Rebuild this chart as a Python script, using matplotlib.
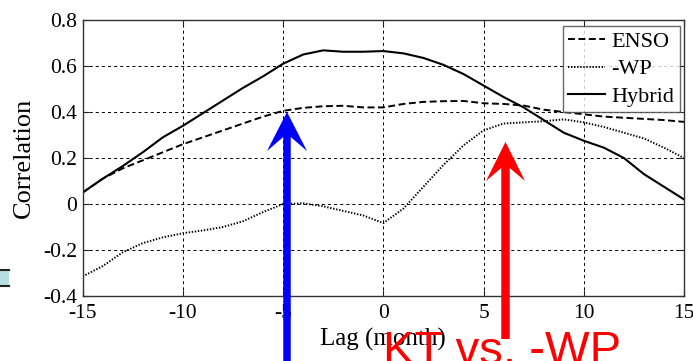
import matplotlib
matplotlib.use("Agg")
import matplotlib.pyplot as plt
from matplotlib.patches import Polygon, Rectangle
from matplotlib.lines import Line2D
from matplotlib.transforms import Affine2D

plt.rcParams["font.family"] = ["Liberation Serif", "DejaVu Serif"]
plt.rcParams["axes.unicode_minus"] = False
plt.rcParams["lines.scale_dashes"] = False

# Lagged correlation, lag in months
lags = list(range(-15, 16))
enso = [0.05, 0.11, 0.155, 0.19, 0.225, 0.26, 0.29, 0.32, 0.35, 0.38, 0.405,
        0.418, 0.425, 0.427, 0.42, 0.42, 0.435, 0.444, 0.447, 0.448, 0.438,
        0.435, 0.428, 0.41, 0.4, 0.39, 0.38, 0.375, 0.37, 0.365, 0.357]
neg_wp = [-0.315, -0.27, -0.21, -0.17, -0.145, -0.127, -0.115, -0.1, -0.075,
          -0.035, 0.0, 0.003, -0.01, -0.03, -0.05, -0.083, -0.02, 0.075, 0.17,
          0.255, 0.32, 0.35, 0.355, 0.36, 0.368, 0.355, 0.335, 0.31, 0.285,
          0.245, 0.2]
hybrid = [0.05, 0.11, 0.165, 0.225, 0.29, 0.34, 0.395, 0.45, 0.505, 0.555,
          0.61, 0.65, 0.668, 0.662, 0.662, 0.665, 0.655, 0.635, 0.605, 0.565,
          0.515, 0.465, 0.42, 0.365, 0.31, 0.275, 0.245, 0.2, 0.13, 0.075,
          0.02]

xticks = [-15, -10, -5, 0, 5, 10, 15]
yticks = [-0.4, -0.2, 0, 0.2, 0.4, 0.6, 0.8]
ytick_labels = ["-0.4", "-0.2", "0", "0.2", "0.4", "0.6", "0.8"]

W, H = 693, 361
fig = plt.figure(figsize=(W / 100, H / 100), dpi=100)
ax = fig.add_axes([82.7 / W, 1 - 296 / H, (684 - 82.7) / W, (296 - 20) / H])

ax.plot(lags, enso, color="black", lw=1.4, dashes=(5, 2.5), label="ENSO")
ax.plot(lags, neg_wp, color="black", lw=1.4, dashes=(1, 1.2), label="-WP")
ax.plot(lags, hybrid, color="black", lw=1.5, label="Hybrid")

ax.set_xlim(-15, 15)
ax.set_ylim(-0.4, 0.8)
ax.set_xticks(xticks)
ax.set_xticklabels([str(t) for t in xticks])
ax.set_yticks(yticks)
ax.set_yticklabels(ytick_labels)
ax.tick_params(direction="in", top=True, right=True, labelsize=15.5,
               length=4, width=0.8, color="#222222")
ax.tick_params(axis="x", pad=6)
ax.tick_params(axis="y", pad=4)
ax.grid(True, color="black", lw=0.7, linestyle=(0, (2.2, 2.2)))
for s in ax.spines.values():
    s.set_color("#333333")
    s.set_linewidth(1.0)

ax.set_xlabel("Lag (month)", fontsize=18, labelpad=3)
ax.set_ylabel("Correlation", fontsize=19, labelpad=6)

leg = ax.legend(loc="upper right", bbox_to_anchor=(680 / W, 1 - 26 / H),
                bbox_transform=fig.transFigure, fontsize=16, frameon=True,
                fancybox=False, handlelength=1.65, handletextpad=0.3,
                borderpad=0.25, labelspacing=0.3, borderaxespad=0)
leg.get_frame().set_edgecolor("#444444")
leg.get_frame().set_linewidth(1.0)

# pixel-space transform (origin top-left) for the overlay annotations
px = Affine2D().scale(1 / W, -1 / H).translate(0, 1) + fig.transFigure


def arrow(x, tip, bottom, shaft, head_w, head_len, notch, color):
    pts = [(x, tip), (x + head_w / 2, tip + head_len),
           (x + shaft / 2, tip + notch), (x + shaft / 2, bottom),
           (x - shaft / 2, bottom), (x - shaft / 2, tip + notch),
           (x - head_w / 2, tip + head_len)]
    fig.add_artist(Polygon(pts, closed=True, transform=px, color=color,
                           lw=0, zorder=10))


arrow(287, 112, 362, 7.5, 40, 39, 25, "#0000ff")
arrow(505.5, 142, 339, 8.5, 39, 39, 26, "#ff0000")

fig.text(383 / W, 1 - 364 / H, "KT vs. -WP", color="#ff0000",
         fontsize=34, family="Liberation Sans", ha="left", va="baseline",
         zorder=11)

# small swatch at the left edge
fig.add_artist(Rectangle((0, 269), 9, 17, transform=px, facecolor="#b5dfe0",
                         edgecolor="none", zorder=5))
fig.add_artist(Line2D([0, 9], [269.5, 269.5], transform=px, color="#222222",
                      lw=1.5, zorder=6))
fig.add_artist(Line2D([0, 9], [285.5, 285.5], transform=px, color="#222222",
                      lw=1.5, zorder=6))

fig.savefig("out.png", dpi=100)
